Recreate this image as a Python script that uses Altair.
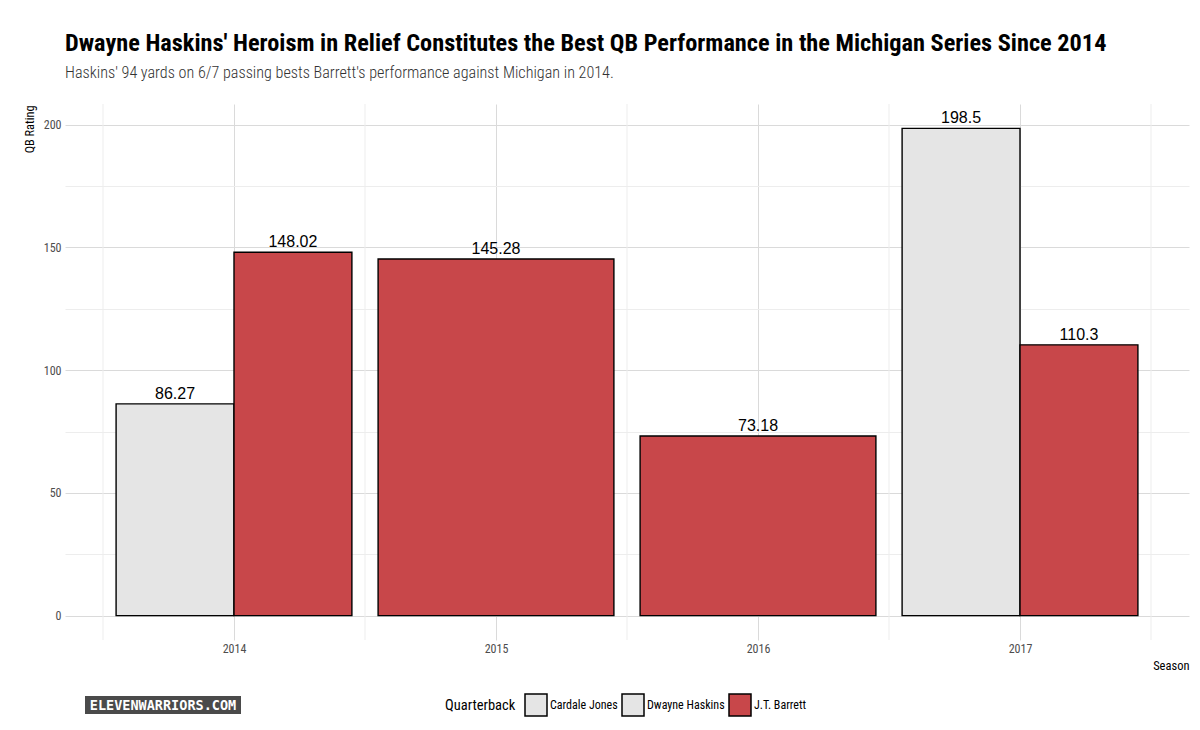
import altair as alt
import pandas as pd

# ---- data ----
seasons = [2014, 2014, 2015, 2016, 2017, 2017]
quarterbacks = ["Cardale Jones", "J.T. Barrett", "J.T. Barrett", "J.T. Barrett",
                "Dwayne Haskins", "J.T. Barrett"]
ratings = [86.27, 148.02, 145.28, 73.18, 198.5, 110.3]
rating_labels = ["86.27", "148.02", "145.28", "73.18", "198.5", "110.3"]

qb_order = ["Cardale Jones", "Dwayne Haskins", "J.T. Barrett"]
qb_colors = ["#E5E5E5", "#E5E5E5", "#C8474A"]
x_major = [2014, 2015, 2016, 2017]
x_minor = [2013.5, 2014.5, 2015.5, 2016.5, 2017.5]
y_ticks = [0, 25, 50, 75, 100, 125, 150, 175, 200]

df = pd.DataFrame({
    "Season": seasons,
    "Quarterback": quarterbacks,
    "Rating": ratings,
    "Label": rating_labels,
    "qb_rank": [qb_order.index(q) for q in quarterbacks],
})
minor_df = pd.DataFrame({"xv": x_minor})

FONT = "Roboto Condensed, Liberation Sans Narrow, Roboto, sans-serif"
W, H = 1124, 536

base = alt.Chart(df).transform_joinaggregate(
    n="count()", groupby=["Season"]
).transform_window(
    idx="row_number()", groupby=["Season"], sort=[alt.SortField("qb_rank")]
).transform_calculate(
    x0="datum.Season - 0.45 + (datum.idx - 1) * 0.9 / datum.n",
).transform_calculate(
    x1="datum.x0 + 0.9 / datum.n",
    xm="datum.x0 + 0.45 / datum.n",
)

xscale = alt.Scale(domain=[2013.355, 2017.645], nice=False, zero=False)
yscale = alt.Scale(domain=[-9.925, 208.425], nice=False, zero=False)

grid_color = {"condition": {"test": "datum.value % 50 == 0", "value": "#DADADA"}, "value": "#EDEDED"}

x_axis = alt.Axis(values=x_major, format="d",
                  title="Season", titleAnchor="end", titleX=W, titleY=25,
                  titleAlign="right", titleBaseline="middle",
                  titleFontSize=12.5, labelPadding=3,
                  gridColor="#DADADA")
y_axis = alt.Axis(values=y_ticks,
                  labelExpr="datum.value % 50 == 0 ? datum.label : ''",
                  title="QB Rating", titleAngle=-90, titleX=-36, titleY=1,
                  titleAlign="right", titleBaseline="middle",
                  titleFontSize=12.3, labelPadding=4,
                  gridColor=grid_color)

minor_rules = alt.Chart(minor_df).mark_rule(color="#EDEDED", strokeWidth=1).encode(
    x=alt.X("xv:Q", scale=xscale, axis=x_axis),
    y=alt.value(0), y2=alt.value(H),
)

bars = base.mark_bar(stroke="black", strokeWidth=1.4, opacity=1).encode(
    x=alt.X("x0:Q", scale=xscale, axis=x_axis),
    x2="x1:Q",
    y=alt.Y("Rating:Q", scale=yscale, axis=y_axis),
    y2=alt.datum(0),
    color=alt.Color("Quarterback:N",
                    scale=alt.Scale(domain=qb_order, range=qb_colors),
                    legend=alt.Legend(orient="none", legendX=380, legendY=589,
                                      direction="horizontal", titleOrient="left",
                                      title="Quarterback", titleFontSize=14.5,
                                      titleFontWeight="normal", titleColor="black",
                                      titleFont=FONT, labelFont=FONT,
                                      labelFontSize=12, labelColor="black",
                                      symbolType="square", symbolSize=484,
                                      symbolStrokeColor="black", symbolStrokeWidth=1.5,
                                      symbolOpacity=1, labelOffset=2,
                                      columnPadding=1, titlePadding=8,
                                      titleBaseline="middle")),
)

labels = base.mark_text(font="Liberation Sans, Arial, sans-serif", fontSize=16,
                        color="black", baseline="alphabetic", dy=-5).encode(
    x=alt.X("xm:Q", scale=xscale, axis=x_axis),
    y=alt.Y("Rating:Q", scale=yscale, axis=y_axis),
    text="Label:N",
)

logo_df = pd.DataFrame({"t": ["ELEVENWARRIORS.COM"]})
logo_box = alt.Chart(logo_df).mark_rect(color="#4A4A4A").encode(
    x=alt.value(20), x2=alt.value(176), y=alt.value(592), y2=alt.value(610)
)
logo_txt = alt.Chart(logo_df).mark_text(
    font="DejaVu Sans Mono", fontWeight="bold", fontSize=13.5, color="white",
    align="center", baseline="middle"
).encode(x=alt.value(98), y=alt.value(601.5), text="t:N")

chart = alt.layer(minor_rules, bars, labels, logo_box, logo_txt).properties(
    width=W, height=H,
    title=alt.TitleParams(
        "Dwayne Haskins' Heroism in Relief Constitutes the Best QB Performance in the Michigan Series Since 2014",
        subtitle="Haskins' 94 yards on 6/7 passing bests Barrett's performance against Michigan in 2014.",
        anchor="start", frame="group", font=FONT, fontSize=24.3, fontWeight="bold",
        color="black", subtitleFont=FONT, subtitleFontSize=16.15, subtitleFontWeight=300,
        subtitleColor="#333333", subtitlePadding=9, offset=22,
    ),
    autosize=alt.AutoSizeParams(type="none"),
    padding={"left": 65, "top": 104, "right": 11, "bottom": 90},
    background="white",
).configure_view(strokeWidth=0).configure_axis(
    labelFont=FONT, titleFont=FONT, labelFontSize=12, labelColor="#4D4D4D",
    titleColor="black", titleFontWeight="normal", domain=False, ticks=False,
    grid=True, gridWidth=1, labelOverlap=False, labelFlush=False,
)

chart.save("out.html", embed_options={"renderer": "svg", "actions": False})
